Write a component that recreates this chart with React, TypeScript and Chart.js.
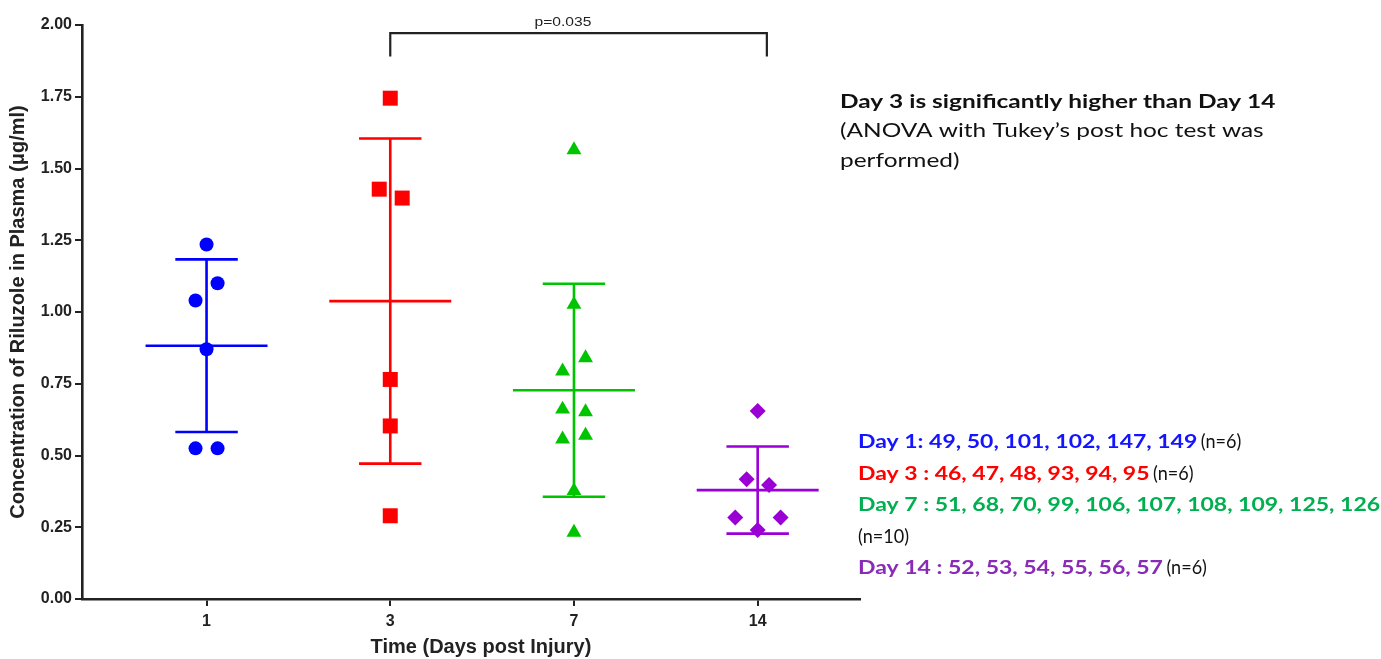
import React, { useEffect, useRef } from "react";
import { Chart, registerables } from "chart.js";

Chart.register(...registerables);

// ---- data ----
const dayLabels = ["1", "3", "7", "14"];

const day1Values = [1.235, 1.1, 1.04, 0.87, 0.525, 0.525];
const day3Values = [1.745, 1.428, 1.397, 0.765, 0.603, 0.29];
const day7Values = [1.565, 1.026, 0.84, 0.794, 0.661, 0.652, 0.557, 0.57, 0.377, 0.232];
const day14Values = [0.655, 0.417, 0.397, 0.284, 0.284, 0.24];

// horizontal scatter offsets (category units)
const day1Jitter = [0, 0.06, -0.06, 0, -0.06, 0.06];
const day3Jitter = [0, -0.06, 0.065, 0, 0, 0];
const day7Jitter = [0, 0, 0.063, -0.062, -0.062, 0.063, -0.062, 0.063, 0, 0];
const day14Jitter = [0, -0.06, 0.062, -0.122, 0.125, 0];

const day1Ids = [49, 50, 101, 102, 147, 149];
const day3Ids = [46, 47, 48, 93, 94, 95];
const day7Ids = [51, 68, 70, 99, 106, 107, 108, 109, 125, 126];
const day14Ids = [52, 53, 54, 55, 56, 57];

const yTickMin = 0;
const yTickMax = 2;
const yTickStep = 0.25;

const pValueText = "p=0.035";
const pValueGroup = 2.94;
const bracketStartGroup = 2; // day 3
const bracketEndGroup = 4.05; // day 14
const bracketTop = 1.972;
const bracketBottom = 1.89;

const noteTitle = "Day 3 is significantly higher than Day 14";
const noteLines = ["(ANOVA with Tukey\u2019s post hoc test was", "performed)"];

// ---- styles ----
const markerColors = ["#0000FF", "#FF0000", "#00C400", "#9A00D6"];
const legendColors = ["#1414FF", "#FF0000", "#00B050", "#8A2BB8"];
const pointStyles = ["circle", "rect", "triangle", "rectRot"];
const pointRadii = [7, 10.6, 8.6, 8];

const groups = [
  { values: day1Values, jitter: day1Jitter, ids: day1Ids, sep: ": " },
  { values: day3Values, jitter: day3Jitter, ids: day3Ids, sep: " : " },
  { values: day7Values, jitter: day7Jitter, ids: day7Ids, sep: " : " },
  { values: day14Values, jitter: day14Jitter, ids: day14Ids, sep: " : " },
];

function meanSd(v: number[]) {
  const m = v.reduce((a, b) => a + b, 0) / v.length;
  const sd = Math.sqrt(v.reduce((a, b) => a + (b - m) * (b - m), 0) / (v.length - 1));
  return { m, sd };
}

const MEAN_HALF = 0.332;
const CAP_HALF = 0.17;

function stretchedText(ctx: CanvasRenderingContext2D, text: string, x: number, y: number, sx: number) {
  ctx.save();
  ctx.translate(x, y);
  ctx.scale(sx, 1);
  ctx.fillText(text, 0, 0);
  const w = ctx.measureText(text).width * sx;
  ctx.restore();
  return w;
}

const annotationPlugin = {
  id: "annotations",
  afterDraw(chart: any) {
    const ctx = chart.ctx as CanvasRenderingContext2D;
    const xs = chart.scales.x;
    const ys = chart.scales.y;
    const area = chart.chartArea;
    ctx.save();
    // p-value
    ctx.fillStyle = "#222";
    ctx.font = '13px "Liberation Sans", Arial, sans-serif';
    ctx.textAlign = "left";
    ctx.textBaseline = "middle";
    const pw = ctx.measureText(pValueText).width * 1.2;
    stretchedText(
      ctx,
      pValueText,
      xs.getPixelForValue(pValueGroup) - pw / 2,
      ys.getPixelForValue(bracketTop) - 11,
      1.2
    );

    // note
    const noteX = area.right - 20;
    const noteStretch = 1.32;
    ctx.font = 'bold 18.5px Lato, "Open Sans", sans-serif';
    ctx.fillStyle = "#111";
    stretchedText(ctx, noteTitle, noteX, area.top + 77, noteStretch);
    ctx.font = '18.5px Lato, "Open Sans", sans-serif';
    noteLines.forEach((t, i) => stretchedText(ctx, t, noteX, area.top + 106 + i * 30, noteStretch));

    // legend
    const legX = area.right - 2;
    const legStretch = 1.21;
    const nStretch = 0.95;
    let rowY = area.top + 417;
    const rowGap = 31.5;
    groups.forEach((g, gi) => {
      const colored = `Day ${dayLabels[gi]}${g.sep}${g.ids.join(", ")} `;
      const nText = `(n=${g.ids.length})`;
      ctx.font = 'bold 19px Lato, "Open Sans", sans-serif';
      ctx.fillStyle = legendColors[gi];
      const w = stretchedText(ctx, colored, legX, rowY, legStretch);
      ctx.font = '19px Lato, "Open Sans", sans-serif';
      ctx.fillStyle = "#111";
      if (g.ids.length > 6) {
        rowY += rowGap;
        stretchedText(ctx, nText, legX, rowY, nStretch);
      } else {
        stretchedText(ctx, nText, legX + w - 2, rowY, nStretch);
      }
      rowY += rowGap;
    });
    ctx.restore();
  },
};

export default function App() {
  const canvasRef = useRef<HTMLCanvasElement>(null);

  useEffect(() => {
    document.body.style.margin = "0";
    const datasets: any[] = [];
    groups.forEach((g, gi) => {
      const c = gi + 1;
      datasets.push({
        label: `Day ${dayLabels[gi]}`,
        data: g.values.map((v, i) => ({ x: c + g.jitter[i], y: v })),
        pointStyle: pointStyles[gi],
        pointRadius: pointRadii[gi],
        pointBackgroundColor: markerColors[gi],
        pointBorderColor: markerColors[gi],
        pointBorderWidth: 0,
        showLine: false,
        order: 0,
      });
    });
    groups.forEach((g, gi) => {
      const c = gi + 1;
      const { m, sd } = meanSd(g.values);
      datasets.push({
        label: `Day ${dayLabels[gi]} mean`,
        data: [
          { x: c - MEAN_HALF, y: m },
          { x: c + MEAN_HALF, y: m },
          { x: c, y: null },
          { x: c, y: m + sd },
          { x: c, y: m - sd },
          { x: c, y: null },
          { x: c - CAP_HALF, y: m + sd },
          { x: c + CAP_HALF, y: m + sd },
          { x: c, y: null },
          { x: c - CAP_HALF, y: m - sd },
          { x: c + CAP_HALF, y: m - sd },
        ],
        showLine: true,
        spanGaps: false,
        borderColor: markerColors[gi],
        borderWidth: 2.6,
        pointRadius: 0,
        order: 1,
      });
    });
    datasets.push({
      label: "bracket",
      data: [
        { x: bracketStartGroup, y: bracketBottom },
        { x: bracketStartGroup, y: bracketTop },
        { x: bracketEndGroup, y: bracketTop },
        { x: bracketEndGroup, y: bracketBottom },
      ],
      showLine: true,
      borderColor: "#222",
      borderWidth: 2.2,
      pointRadius: 0,
      order: 2,
      clip: false,
    });

    const chart = new Chart(canvasRef.current!, {
      type: "scatter",
      data: { datasets },
      plugins: [annotationPlugin],
      options: {
        animation: false,
        responsive: false,
        devicePixelRatio: 1,
        layout: { padding: { left: 0, top: 25, right: 521, bottom: 0 } },
        plugins: { legend: { display: false }, tooltip: { enabled: false } },
        scales: {
          x: {
            type: "linear",
            min: 0.322,
            max: 4.557,
            afterBuildTicks: (scale: any) => {
              scale.ticks = dayLabels.map((_, i) => ({ value: i + 1 }));
            },
            afterFit: (scale: any) => {
              scale.height = 60;
            },
            ticks: {
              autoSkip: false,
              maxRotation: 0,
              padding: 6,
              color: "#222",
              font: { family: '"Liberation Sans", Arial, sans-serif', size: 16, weight: "bold" },
              callback: (v: any) => dayLabels[Math.round(Number(v)) - 1] ?? "",
            },
            grid: { drawOnChartArea: false, drawTicks: true, tickLength: 7, color: "#222", lineWidth: 2 },
            border: { display: true, color: "#222", width: 2.6 },
            title: {
              display: true,
              text: "\u2002\u2002Time (Days post Injury)",
              color: "#222",
              font: { family: '"Liberation Sans", Arial, sans-serif', size: 20, weight: "bold" },
              padding: { top: 0, bottom: 0 },
            },
          },
          y: {
            type: "linear",
            min: yTickMin,
            max: yTickMax,
            afterFit: (scale: any) => {
              scale.width = 82;
            },
            ticks: {
              stepSize: yTickStep,
              padding: 3,
              color: "#222",
              font: { family: '"Liberation Sans", Arial, sans-serif', size: 16, weight: "bold" },
              callback: (v: any) => Number(v).toFixed(2),
            },
            grid: { drawOnChartArea: false, drawTicks: true, tickLength: 7, color: "#222", lineWidth: 2 },
            border: { display: true, color: "#222", width: 2.6 },
            title: {
              display: true,
              text: "Concentration of Riluzole in Plasma (\u03bcg/ml)",
              color: "#222",
              font: { family: '"Liberation Sans", Arial, sans-serif', size: 20, weight: "bold" },
              padding: { top: 6, bottom: 0 },
            },
          },
        },
      } as any,
    });
    return () => chart.destroy();
  }, []);

  return (
    <div style={{ width: 1381, height: 659, position: "relative", background: "#fff" }}>
      <canvas ref={canvasRef} width={1381} height={659} style={{ width: 1381, height: 659, display: "block" }} />
    </div>
  );
}
